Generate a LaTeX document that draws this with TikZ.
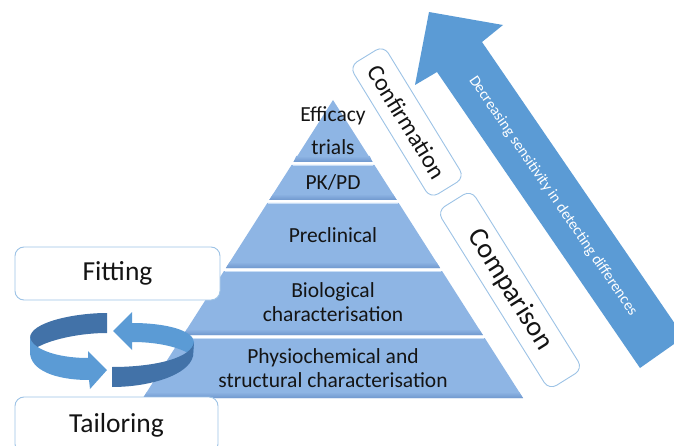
\documentclass[tikz,border=0pt]{standalone}
\usepackage{fontspec}
\setmainfont{Carlito}
\definecolor{pyrmain}{RGB}{142,181,228}
\definecolor{pyrdark}{RGB}{112,152,206}
\definecolor{pyrlight}{RGB}{200,221,245}
\definecolor{boxline}{RGB}{157,195,230}
\definecolor{arrowblue}{RGB}{91,155,213}
\definecolor{ringdark}{RGB}{66,114,168}
\definecolor{ringlight}{RGB}{91,155,213}
\definecolor{txt}{RGB}{20,20,20}
\newcommand{\pyrlayer}[2]{%
  \pgfmathsetmacro\pyrTA{0.6376*(#1-100)}%
  \pgfmathsetmacro\pyrTB{0.6376*(#2-100)}%
  \pgfmathsetmacro\pyrTC{0.6376*(#2-6-100)}%
  \fill[pyrmain] ({333-\pyrTA},#1) -- ({333+\pyrTA},#1) -- ({333+\pyrTB},#2) -- ({333-\pyrTB},#2) -- cycle;
  \shade[top color=pyrmain, bottom color=pyrdark] ({333-\pyrTC},#2-6) -- ({333+\pyrTC},#2-6) -- ({333+\pyrTB},#2) -- ({333-\pyrTB},#2) -- cycle;
  \draw[pyrlight, line width=1.4pt] ({333-\pyrTA+1},#1+0.7) -- ({333+\pyrTA-1},#1+0.7);
}
\begin{document}
\begin{tikzpicture}[x=1pt,y=-1pt,
  lbox/.style={draw=boxline, line width=0.9pt, fill=white, rounded corners=9pt, inner sep=0pt, text=txt},
  laytext/.style={font=\fontsize{21.5}{24}\selectfont, align=center, inner sep=0pt, text=txt}]
\useasboundingbox (0,0) rectangle (674,446);
\clip (0,0) rectangle (674,446);

% pyramid
\fill[pyrmain] (333,100) -- (372.5,162) -- (293.5,162) -- cycle;
\shade[top color=pyrmain, bottom color=pyrdark] (296.3,156) -- (369.7,156) -- (372.5,162) -- (293.5,162) -- cycle;
\pyrlayer{165}{200}
\pyrlayer{203}{268}
\pyrlayer{271}{335}
\pyrlayer{338}{398}

\node[laytext, font=\fontsize{21.5}{33}\selectfont, anchor=base] (eff) at (333,155) {Efficacy\\trials};
\node[laytext, anchor=base] (pkpd) at (333,190) {PK/PD};
\node[laytext, anchor=base] (precl) at (333,243) {Preclinical};
\node[laytext, anchor=base] (bio) at (333,321) {Biological\\characterisation};
\node[laytext, anchor=base] (phys) at (333,387) {Physiochemical and\\structural characterisation};

% big arrow
\fill[arrowblue] (429,12) -- (503,25) -- (482,42) -- (684,337) -- (640,368) -- (437,72) -- (415,85) -- cycle;
\node[rotate=-55.6, text=white, font=\fontsize{15.5}{18}\selectfont, inner sep=0pt] (sens) at (553,196) {Decreasing sensitivity in detecting differences};

% rotated boxes
\node[lbox, rotate=-58.5, minimum width=155pt, minimum height=40pt, font=\fontsize{24}{28}\selectfont] (conf) at (407,122) {Confirmation};
\node[lbox, rotate=-58, minimum width=211pt, minimum height=40pt, font=\fontsize{28}{32}\selectfont] (comp) at (510,290) {Comparison};

% circular arrows
\fill[ringdark] (107,313) .. controls (75,313) and (30,322) .. (30,338) -- (31,352) .. controls (40,342) and (75,333) .. (107,333) -- cycle;
\fill[ringlight] (132,323) .. controls (165,323) and (193,330) .. (194,342) -- (193,356) .. controls (185,350) and (165,342) .. (132,342) -- (132,350) -- (113,331) -- (132,312) -- cycle;
\fill[ringlight] (30,336) .. controls (30,348) and (55,358) .. (88,358) -- (88,351) -- (107,370) -- (90,389) -- (89,380) .. controls (55,380) and (30,370) .. (30,352) -- cycle;
\fill[ringdark] (112,367) .. controls (155,367) and (192,358) .. (194,342) -- (193,356) .. controls (189,375) and (150,387) .. (112,387) -- cycle;

% side boxes
\node[lbox, minimum width=205pt, minimum height=53pt, font=\fontsize{27.5}{32}\selectfont] (fit) at (117.5,273.5) {Fitting};
\node[lbox, minimum width=203pt, minimum height=56pt, font=\fontsize{27.5}{32}\selectfont] (tail) at (116.5,425) {Tailoring};
\end{tikzpicture}
\end{document}
